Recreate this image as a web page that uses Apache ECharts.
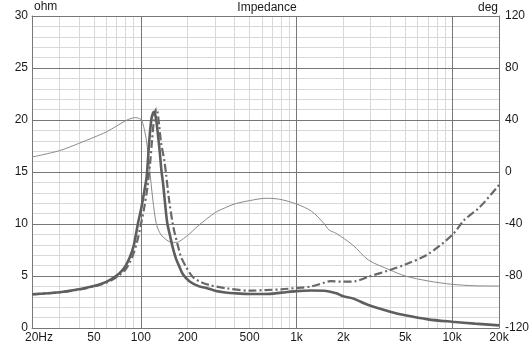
<!DOCTYPE html>
<html><head><meta charset="utf-8">
<script src="https://cdn.jsdelivr.net/npm/echarts@6/dist/echarts.min.js"></script>
<style>html,body{margin:0;padding:0;background:#fff}#c{width:532px;height:346px}</style>
</head><body><div id="c"></div>
<script>
// ---- data ----
const freqSolid = [20,30,40,50,56,63,70,75,80,85,90,96,100,103,106,109,113.5,117,120,122,125,128,132,136,139,144,148,154,160,168,177,186,205,237,260,300,350,400,500,630,800,1000,1250,1500,1800,2000,2300,2900,4000,5000,7000,10000,14000,20000];
const ohmSolid  = [3.24,3.43,3.72,4.04,4.25,4.6,5.05,5.45,6.0,6.8,7.9,10.1,11.3,12.3,13.4,14.5,18.1,20.1,20.7,20.8,20.2,19.0,17.1,15.0,13.9,11.6,10.07,8.9,7.8,6.7,5.9,5.2,4.5,4.0,3.88,3.59,3.42,3.34,3.27,3.27,3.4,3.55,3.6,3.58,3.33,3.05,2.85,2.21,1.57,1.22,0.83,0.6,0.42,0.25];

const freqDash = [20,30,40,50,56,63,70,75,80,85,90,95,100,105,110,115,118,121,124,126,128,131,135,142,152,160,164,176,181,195,215,240,276,353,500,630,800,1000,1250,1500,1650,2000,2400,2900,4000,5000,7000,10000,12000,15000,20000];
const ohmDash  = [3.24,3.43,3.7,4.0,4.2,4.5,4.9,5.25,5.65,6.3,7.2,8.4,9.9,11.5,13.4,16.0,18.0,19.8,20.8,21.1,20.8,19.6,17.8,16.0,12.3,10.1,9.3,7.5,6.86,5.9,4.93,4.45,4.13,3.82,3.59,3.65,3.72,3.85,4.0,4.35,4.5,4.45,4.5,4.93,5.58,6.1,7.1,8.94,10.4,11.6,13.75];

const freqPhase = [20,30,40,50,60,70,80,88,93,100,103,108.6,113.5,119.5,125.6,132,139,156,168,195,237,300,350,400,500,640,780,1000,1250,1500,1620,1800,2300,2900,4000,5000,7000,10000,14000,20000];
const degPhase  = [11.5,16.4,22,26.7,30.8,35.4,39.5,41.5,41.8,40.5,37.5,24.6,4.1,-21.5,-39.5,-46.5,-50,-54,-54.2,-49.8,-40.8,-31.3,-27.4,-24.6,-22,-20.2,-21,-24.6,-30.2,-39.5,-44.6,-47.2,-56.2,-67.7,-75.4,-80,-83.8,-86.4,-87.5,-87.7];

const labelFreqs = [20,50,100,200,500,1000,2000,5000,10000,20000];
const labelTexts = ['20Hz','50','100','200','500','1k','2k','5k','10k','20k'];
const majorGridFreqs = [100,1000,10000];
const minorGridFreqs = [30,40,50,60,70,80,90,200,300,400,500,600,700,800,900,2000,3000,4000,5000,6000,7000,8000,9000];
const leftTicks = {min:0,max:30,interval:5};
const rightTicks = {min:-120,max:120,interval:40};

// ---- chart ----
const L = Math.log10;
const pairs = (f, v) => f.map((x, i) => [L(x), v[i]]);
const FONT = 'Liberation Sans, Arial, sans-serif';
const chart = echarts.init(document.getElementById('c'), null, {renderer:'canvas'});
chart.setOption({
  animation:false,
  backgroundColor:'#fff',
  textStyle:{fontFamily:FONT},
  grid:{left:32,right:31,top:16,bottom:18,containLabel:false},
  graphic:[
    {type:'text',left:34,top:1,style:{text:'ohm',font:'12px '+FONT,fill:'#1a1a1a'}},
    {type:'text',x:267,y:8,style:{text:'Impedance',font:'12px '+FONT,fill:'#1a1a1a',textAlign:'center',textVerticalAlign:'middle'}},
    {type:'text',x:498,y:8,style:{text:'deg',font:'12px '+FONT,fill:'#1a1a1a',textAlign:'right',textVerticalAlign:'middle'}}
  ],
  xAxis:[
    {type:'value',min:L(20),max:L(20000),position:'bottom',z:2,
     axisLine:{show:true,onZero:false,lineStyle:{color:'#777',width:1}},
     axisTick:{show:true,inside:true,length:312,customValues:majorGridFreqs.map(L),lineStyle:{color:'#777',width:1}},
     axisLabel:{show:true,margin:4,color:'#1a1a1a',fontSize:12,fontFamily:FONT,
       customValues:labelFreqs.map(L),
       formatter:function(v){
         for(let i=0;i<labelFreqs.length;i++){ if(Math.abs(L(labelFreqs[i])-v)<1e-6){ return i===0?'{a|'+labelTexts[i]+'}':labelTexts[i]; } }
         return '';
       },
       rich:{a:{padding:[0,0,0,14],fontSize:12,color:'#1a1a1a',fontFamily:FONT}}},
     splitLine:{show:false}},
    {type:'value',min:L(20),max:L(20000),position:'top',z:0,
     axisLine:{show:true,onZero:false,lineStyle:{color:'#777',width:1}},
     axisTick:{show:true,inside:true,length:312,customValues:minorGridFreqs.map(L),lineStyle:{color:'#d9d9d9',width:1}},
     axisLabel:{show:false},splitLine:{show:false}}
  ],
  yAxis:[
    {type:'value',min:leftTicks.min,max:leftTicks.max,interval:leftTicks.interval,position:'left',z:1,
     axisLine:{show:true,onZero:false,lineStyle:{color:'#777'}},axisTick:{show:false},
     axisLabel:{margin:4,color:'#1a1a1a',fontSize:12,fontFamily:FONT},
     splitLine:{show:true,lineStyle:{color:'#777',width:1}},
     minorTick:{show:false,splitNumber:5},
     minorSplitLine:{show:true,lineStyle:{color:'#d9d9d9',width:1}}},
    {type:'value',min:rightTicks.min,max:rightTicks.max,interval:rightTicks.interval,position:'right',z:1,
     axisLine:{show:true,onZero:false,lineStyle:{color:'#777'}},axisTick:{show:false},
     axisLabel:{margin:6,color:'#1a1a1a',fontSize:12,fontFamily:FONT},
     splitLine:{show:false}}
  ],
  series:[
    {type:'line',name:'phase',xAxisIndex:0,yAxisIndex:1,data:pairs(freqPhase,degPhase),showSymbol:false,smooth:0.3,z:3,
     lineStyle:{color:'#8a8a8a',width:1}},
    {type:'line',name:'imp2',xAxisIndex:0,yAxisIndex:0,data:pairs(freqDash,ohmDash),showSymbol:false,smooth:0.3,z:4,
     lineStyle:{color:'#686868',width:2.2,type:[8,3,2,3]}},
    {type:'line',name:'imp1',xAxisIndex:0,yAxisIndex:0,data:pairs(freqSolid,ohmSolid),showSymbol:false,smooth:0.3,z:5,
     lineStyle:{color:'#5e5e5e',width:2.6}}
  ]
});
</script></body></html>
